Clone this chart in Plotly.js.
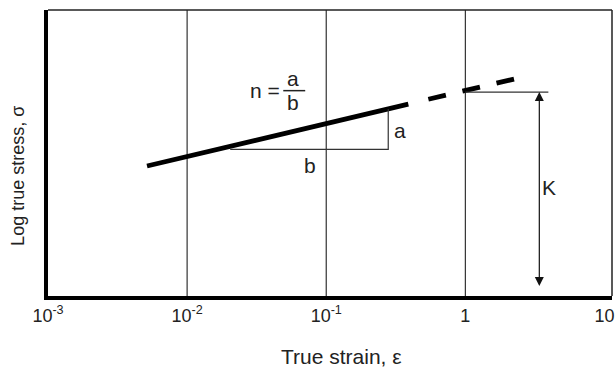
<!DOCTYPE html>
<html>
<head>
<meta charset="utf-8">
<script src="https://cdn.plot.ly/plotly-3.0.1.min.js"></script>
<style>html,body{margin:0;padding:0;background:#fff;}#chart{width:615px;height:370px;}</style>
</head>
<body>
<div id="chart"></div>
<script>
// Data (log-log schematic: x = true strain, y = log true stress in arbitrary units 0..100)
var tickVals = [0.001, 0.01, 0.1, 1, 10];
var tickText = ['10<sup>-3</sup>', '10<sup>-2</sup>', '10<sup>-1</sup>', '1', '10'];
var gridVals = [0.01, 0.1, 1];

var solidX = [0.00515, 0.389];
var solidY = [45.45, 67.1];

var dashX = [0.542, 2.40];
var dashY = [68.8, 76.2];

var triX = [0.0204, 0.279, 0.279];
var triY = [51.3, 51.3, 65.4];

var kLineX = [1, 3.95];
var kLineY = [71.3, 71.3];
var kArrowX = 3.40;
var kArrowTop = 71.3;
var kArrowBottom = 0;

var FONT = 'Liberation Sans, Arial, sans-serif';
var TXT = '#222';

var traces = [
  {x: solidX, y: solidY, mode: 'lines', line: {color: '#000', width: 4.8}, hoverinfo: 'skip'},
  {x: dashX, y: dashY, mode: 'lines', line: {color: '#000', width: 4.8, dash: '18px,17px'}, hoverinfo: 'skip'},
  {x: triX, y: triY, mode: 'lines', line: {color: '#333', width: 1.2}, hoverinfo: 'skip'},
  {x: kLineX, y: kLineY, mode: 'lines', line: {color: '#333', width: 1.2}, hoverinfo: 'skip'}
];

var shapes = gridVals.map(function (v) {
  return {type: 'line', xref: 'x', yref: 'paper', x0: v, x1: v, y0: 0, y1: 1,
          line: {color: '#333', width: 1.2}, layer: 'below'};
});
// thin top & right border
shapes.push({type: 'line', xref: 'paper', yref: 'paper', x0: 0, x1: 1, y0: 1, y1: 1, line: {color: '#222', width: 1.5}});
shapes.push({type: 'line', xref: 'paper', yref: 'paper', x0: 1, x1: 1, y0: 0, y1: 1, line: {color: '#222', width: 1.5}});
// fraction bar
shapes.push({type: 'line', xref: 'x', yref: 'y', x0: 0.0491, x1: 0.0706, y0: 71.8, y1: 71.8, line: {color: TXT, width: 1.5}});

var lblFont = {family: FONT, size: 21, color: TXT};
var annotations = [
  {x: Math.log10(kArrowX), y: kArrowTop, ax: Math.log10(kArrowX), ay: kArrowBottom, xref: 'x', yref: 'y', axref: 'x', ayref: 'y',
   text: ' ', showarrow: true, arrowhead: 2, startarrowhead: 2, arrowside: 'end+start', arrowsize: 1.5, startarrowsize: 1.5,
   arrowwidth: 1.2, arrowcolor: '#111', standoff: 0, startstandoff: 0},
  {x: Math.log10(0.0364), y: 71.7, xref: 'x', yref: 'y', text: 'n =', showarrow: false, font: lblFont},
  {x: Math.log10(0.058), y: 76.2, xref: 'x', yref: 'y', text: 'a', showarrow: false, font: lblFont},
  {x: Math.log10(0.058), y: 67.6, xref: 'x', yref: 'y', text: 'b', showarrow: false, font: lblFont},
  {x: Math.log10(0.340), y: 58.0, xref: 'x', yref: 'y', text: 'a', showarrow: false, font: lblFont},
  {x: Math.log10(0.0767), y: 45.8, xref: 'x', yref: 'y', text: 'b', showarrow: false, font: lblFont},
  {x: Math.log10(4.02), y: 38.1, xref: 'x', yref: 'y', text: 'K', showarrow: false, font: lblFont},
  {x: 0.521, y: -0.213, xref: 'paper', yref: 'paper', text: 'True strain, \u03b5', showarrow: false,
   font: {family: FONT, size: 21, color: TXT}, xanchor: 'center', yanchor: 'middle'},
  {x: 0, y: 0.42, xref: 'paper', yref: 'paper', xshift: -30, text: 'Log true stress, \u03c3', showarrow: false,
   textangle: -90, font: {family: FONT, size: 18, color: TXT}, xanchor: 'center', yanchor: 'middle'}
];

var layout = {
  width: 615, height: 370,
  margin: {l: 48, r: 3, t: 10, b: 74},
  paper_bgcolor: '#fff', plot_bgcolor: '#fff',
  showlegend: false,
  xaxis: {
    type: 'log', range: [-3, 1.054], tickmode: 'array', tickvals: tickVals, ticktext: tickText,
    showgrid: false, zeroline: false, showline: true, linecolor: '#000', linewidth: 4,
    ticks: '', ticklabelstandoff: 0, tickfont: {family: FONT, size: 18, color: TXT}, fixedrange: true
  },
  yaxis: {
    range: [0, 100], showticklabels: false, showgrid: false, zeroline: false,
    showline: true, linecolor: '#000', linewidth: 4, ticks: '', fixedrange: true
  },
  shapes: shapes,
  annotations: annotations
};

Plotly.newPlot('chart', traces, layout, {staticPlot: true, displayModeBar: false});
</script>
</body>
</html>
